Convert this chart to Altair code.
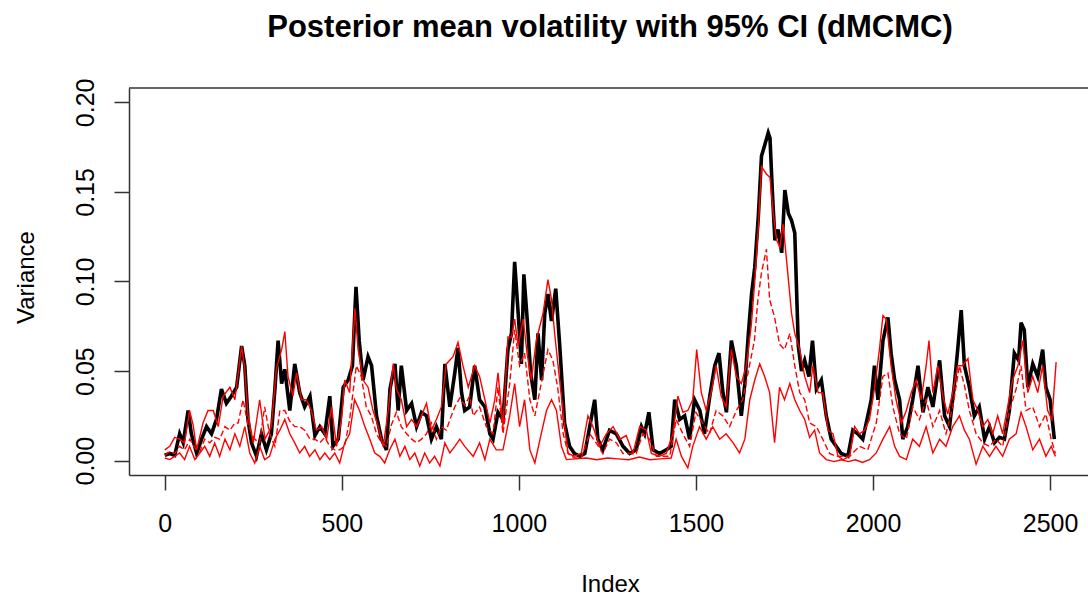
import altair as alt
import pandas as pd

# ---- posterior mean (black) ----
black_idx = [0, 14, 28, 42, 52, 66, 75, 90, 104, 118, 132, 146, 160, 174, 188, 203, 217, 226, 235, 245,
             259, 273, 287, 301, 311, 320, 330, 339, 353, 367, 381, 395, 410, 424, 438, 452, 466, 475, 490, 504,
             518, 530, 540, 549, 560, 574, 584, 598, 612, 626, 636, 650, 659, 668, 683, 697, 711, 725, 739, 753,
             767, 781, 791, 805, 819, 828, 838, 847, 861, 875, 889, 904, 918, 927, 941, 955, 969, 979, 988, 998,
             1007, 1014, 1023, 1033, 1045, 1054, 1064, 1073, 1082, 1092, 1104, 1115, 1129, 1143, 1157, 1172, 1186, 1200, 1214, 1223,
             1237, 1256, 1275, 1294, 1313, 1331, 1346, 1355, 1367, 1379, 1397, 1416, 1430, 1440, 1454, 1468, 1482, 1496, 1511, 1524,
             1539, 1553, 1565, 1576, 1586, 1600, 1614, 1628, 1638, 1648, 1657, 1666, 1676, 1685, 1694, 1704, 1709, 1716, 1723, 1732,
             1742, 1751, 1761, 1770, 1779, 1789, 1798, 1807, 1819, 1829, 1840, 1854, 1868, 1882, 1896, 1910, 1929, 1943, 1957, 1971,
             1983, 1995, 2004, 2014, 2028, 2042, 2051, 2061, 2075, 2084, 2098, 2112, 2127, 2141, 2155, 2169, 2188, 2202, 2216, 2230,
             2239, 2249, 2258, 2272, 2286, 2300, 2315, 2329, 2343, 2357, 2371, 2385, 2399, 2411, 2418, 2427, 2437, 2451, 2465, 2479,
             2488, 2500, 2512]
black_val = [0.003, 0.004, 0.003, 0.015, 0.010, 0.028, 0.015, 0.004, 0.012, 0.019, 0.015, 0.023, 0.040, 0.032, 0.036, 0.041, 0.064, 0.053, 0.023, 0.010,
             0.0025, 0.015, 0.006, 0.015, 0.040, 0.067, 0.043, 0.051, 0.028, 0.054, 0.038, 0.030, 0.036, 0.014, 0.019, 0.015, 0.036, 0.008, 0.012, 0.041,
             0.045, 0.053, 0.097, 0.067, 0.045, 0.058, 0.053, 0.025, 0.012, 0.006, 0.040, 0.054, 0.028, 0.053, 0.028, 0.032, 0.019, 0.027, 0.025, 0.012,
             0.019, 0.012, 0.054, 0.030, 0.049, 0.063, 0.038, 0.028, 0.030, 0.053, 0.034, 0.030, 0.015, 0.012, 0.027, 0.023, 0.062, 0.071, 0.111, 0.082,
             0.054, 0.104, 0.080, 0.049, 0.034, 0.071, 0.045, 0.082, 0.093, 0.078, 0.096, 0.065, 0.021, 0.008, 0.004, 0.0025, 0.004, 0.019, 0.034, 0.012,
             0.006, 0.017, 0.015, 0.008, 0.004, 0.006, 0.019, 0.015, 0.027, 0.006, 0.004, 0.006, 0.008, 0.034, 0.023, 0.025, 0.012, 0.034, 0.028, 0.015,
             0.036, 0.053, 0.060, 0.038, 0.027, 0.067, 0.053, 0.025, 0.043, 0.071, 0.093, 0.108, 0.136, 0.170, 0.176, 0.183, 0.180, 0.149, 0.123, 0.129,
             0.116, 0.151, 0.138, 0.134, 0.127, 0.064, 0.050, 0.056, 0.047, 0.067, 0.040, 0.045, 0.025, 0.012, 0.008, 0.004, 0.0025, 0.017, 0.015, 0.012,
             0.023, 0.034, 0.053, 0.034, 0.067, 0.080, 0.060, 0.045, 0.034, 0.012, 0.019, 0.034, 0.053, 0.027, 0.041, 0.030, 0.056, 0.025, 0.019, 0.043,
             0.062, 0.084, 0.053, 0.041, 0.025, 0.030, 0.012, 0.019, 0.010, 0.013, 0.012, 0.028, 0.060, 0.056, 0.077, 0.073, 0.041, 0.054, 0.047, 0.062,
             0.041, 0.034, 0.012]

# ---- upper red line ----
hi_idx = [0, 14, 28, 42, 56, 70, 80, 90, 108, 122, 137, 151, 165, 184, 198, 217, 226, 235, 250, 268,
          283, 301, 315, 330, 339, 348, 362, 372, 386, 400, 414, 428, 443, 457, 471, 485, 499, 508, 522, 537,
          546, 560, 574, 588, 603, 617, 631, 645, 654, 668, 683, 697, 711, 725, 739, 753, 767, 781, 795, 814,
          828, 842, 857, 875, 889, 904, 918, 932, 941, 955, 969, 979, 988, 998, 1012, 1023, 1035, 1049, 1059, 1068,
          1082, 1092, 1101, 1110, 1120, 1129, 1139, 1157, 1176, 1195, 1209, 1228, 1247, 1266, 1285, 1303, 1322, 1341, 1360, 1374,
          1397, 1416, 1435, 1449, 1463, 1477, 1491, 1502, 1515, 1529, 1543, 1557, 1571, 1585, 1600, 1614, 1628, 1642, 1656, 1666,
          1676, 1685, 1699, 1709, 1718, 1728, 1737, 1746, 1761, 1770, 1779, 1793, 1807, 1821, 1830, 1845, 1858, 1873, 1887, 1901,
          1915, 1934, 1948, 1962, 1976, 1990, 2004, 2018, 2028, 2037, 2051, 2065, 2080, 2094, 2108, 2122, 2136, 2150, 2158, 2169,
          2183, 2197, 2211, 2225, 2239, 2253, 2268, 2282, 2296, 2310, 2324, 2338, 2352, 2366, 2380, 2394, 2409, 2423, 2437, 2451,
          2465, 2479, 2493, 2505, 2517]
hi_val = [0.006, 0.008, 0.013, 0.012, 0.010, 0.028, 0.020, 0.006, 0.021, 0.028, 0.028, 0.019, 0.036, 0.041, 0.034, 0.064, 0.051, 0.025, 0.010, 0.034,
          0.012, 0.019, 0.051, 0.062, 0.072, 0.047, 0.036, 0.049, 0.034, 0.034, 0.028, 0.017, 0.019, 0.012, 0.030, 0.008, 0.023, 0.045, 0.038, 0.085,
          0.062, 0.045, 0.041, 0.028, 0.019, 0.008, 0.028, 0.054, 0.040, 0.034, 0.019, 0.023, 0.019, 0.025, 0.032, 0.017, 0.023, 0.030, 0.054, 0.058,
          0.066, 0.053, 0.041, 0.053, 0.047, 0.034, 0.021, 0.034, 0.049, 0.019, 0.069, 0.069, 0.079, 0.064, 0.079, 0.060, 0.045, 0.067, 0.075, 0.082,
          0.101, 0.090, 0.071, 0.054, 0.036, 0.019, 0.004, 0.0025, 0.004, 0.025, 0.019, 0.008, 0.015, 0.019, 0.012, 0.014, 0.004, 0.019, 0.017, 0.004,
          0.0025, 0.004, 0.015, 0.036, 0.027, 0.028, 0.034, 0.062, 0.038, 0.028, 0.038, 0.053, 0.036, 0.030, 0.062, 0.047, 0.043, 0.053, 0.075, 0.100,
          0.130, 0.164, 0.160, 0.158, 0.138, 0.123, 0.119, 0.132, 0.101, 0.082, 0.071, 0.062, 0.047, 0.038, 0.053, 0.038, 0.038, 0.017, 0.015, 0.0025,
          0.0005, 0.0025, 0.019, 0.015, 0.017, 0.023, 0.040, 0.062, 0.081, 0.079, 0.053, 0.034, 0.021, 0.028, 0.038, 0.045, 0.034, 0.053, 0.067, 0.038,
          0.053, 0.036, 0.026, 0.038, 0.053, 0.053, 0.057, 0.034, 0.028, 0.019, 0.023, 0.015, 0.025, 0.015, 0.030, 0.045, 0.053, 0.067, 0.038, 0.047,
          0.038, 0.053, 0.028, 0.023, 0.055]

# ---- middle red line (dashed) ----
mid_idx = [0, 14, 28, 42, 56, 71, 85, 99, 113, 127, 141, 155, 170, 184, 198, 207, 221, 235, 254, 268,
           282, 296, 311, 325, 339, 353, 367, 381, 395, 410, 424, 438, 452, 466, 480, 494, 508, 522, 541, 555,
           569, 583, 598, 612, 626, 640, 654, 668, 683, 697, 711, 725, 739, 753, 767, 781, 795, 809, 819, 833,
           847, 861, 871, 889, 908, 927, 941, 955, 974, 988, 1002, 1016, 1031, 1045, 1063, 1082, 1096, 1110, 1125, 1139,
           1157, 1176, 1200, 1218, 1237, 1256, 1275, 1294, 1313, 1331, 1350, 1369, 1388, 1407, 1426, 1444, 1463, 1482, 1500, 1519,
           1538, 1557, 1576, 1595, 1614, 1632, 1651, 1665, 1675, 1685, 1699, 1708, 1722, 1736, 1750, 1765, 1779, 1793, 1807, 1821,
           1840, 1858, 1877, 1896, 1915, 1934, 1962, 1985, 2009, 2028, 2042, 2056, 2075, 2094, 2112, 2131, 2150, 2169, 2188, 2206,
           2225, 2244, 2258, 2272, 2291, 2310, 2329, 2347, 2366, 2385, 2404, 2418, 2432, 2451, 2470, 2488, 2503, 2515]
mid_val = [0.003, 0.005, 0.004, 0.008, 0.006, 0.012, 0.007, 0.005, 0.012, 0.010, 0.013, 0.012, 0.019, 0.017, 0.021, 0.021, 0.034, 0.020, 0.012, 0.010,
           0.030, 0.015, 0.008, 0.028, 0.028, 0.022, 0.019, 0.019, 0.017, 0.012, 0.012, 0.010, 0.013, 0.008, 0.006, 0.006, 0.008, 0.023, 0.053, 0.047,
           0.030, 0.025, 0.015, 0.010, 0.008, 0.020, 0.027, 0.019, 0.015, 0.012, 0.010, 0.012, 0.015, 0.021, 0.012, 0.019, 0.017, 0.025, 0.030, 0.035,
           0.031, 0.036, 0.025, 0.030, 0.019, 0.015, 0.041, 0.015, 0.043, 0.073, 0.053, 0.060, 0.034, 0.025, 0.043, 0.062, 0.056, 0.040, 0.015, 0.004,
           0.0015, 0.0015, 0.015, 0.010, 0.004, 0.012, 0.010, 0.004, 0.004, 0.004, 0.015, 0.012, 0.0025, 0.0025, 0.0025, 0.023, 0.015, 0.008, 0.027, 0.021,
           0.015, 0.028, 0.025, 0.019, 0.028, 0.034, 0.053, 0.067, 0.090, 0.105, 0.118, 0.090, 0.080, 0.065, 0.062, 0.071, 0.053, 0.038, 0.034, 0.021,
           0.019, 0.012, 0.004, 0.0025, 0.0025, 0.0025, 0.008, 0.006, 0.021, 0.047, 0.049, 0.030, 0.015, 0.012, 0.030, 0.023, 0.034, 0.019, 0.028, 0.015,
           0.030, 0.053, 0.042, 0.028, 0.015, 0.010, 0.008, 0.012, 0.008, 0.028, 0.040, 0.053, 0.028, 0.030, 0.019, 0.026, 0.012, 0.004]

# ---- lower red line ----
lo_idx = [0, 14, 28, 42, 56, 70, 85, 99, 113, 127, 141, 155, 170, 184, 198, 212, 226, 240, 254, 268,
          282, 296, 311, 325, 339, 353, 367, 381, 395, 409, 424, 438, 452, 466, 480, 494, 508, 522, 536, 550,
          565, 579, 593, 607, 621, 635, 650, 664, 678, 692, 706, 720, 734, 748, 762, 777, 791, 805, 819, 833,
          847, 871, 889, 904, 918, 936, 955, 974, 988, 1002, 1016, 1031, 1045, 1063, 1078, 1092, 1106, 1120, 1134, 1160,
          1190, 1220, 1250, 1280, 1310, 1340, 1370, 1400, 1430, 1444, 1459, 1477, 1491, 1510, 1529, 1547, 1567, 1585, 1605, 1623,
          1638, 1652, 1666, 1680, 1694, 1708, 1722, 1736, 1750, 1765, 1779, 1793, 1807, 1821, 1835, 1849, 1868, 1890, 1910, 1930,
          1950, 1970, 1990, 2009, 2028, 2047, 2061, 2075, 2094, 2112, 2131, 2150, 2169, 2188, 2206, 2225, 2244, 2258, 2272, 2291,
          2310, 2329, 2347, 2366, 2385, 2404, 2418, 2432, 2451, 2470, 2488, 2503, 2515]
lo_val = [0.0015, 0.0006, 0.0024, 0.0043, 0.0006, 0.008, 0.0006, 0.0043, 0.008, 0.0024, 0.0099, 0.0024, 0.012, 0.0061, 0.015, 0.008, 0.019, 0.0043, -0.0013, 0.008,
          0.0006, 0.0024, 0.012, 0.017, 0.023, 0.015, 0.0099, 0.0043, 0.008, 0.0024, 0.0061, 0.0006, 0.0043, 0.0006, 0.0043, -0.0013, 0.0099, 0.015, 0.034, 0.028,
          0.019, 0.012, 0.0043, 0.0024, -0.0013, 0.0061, 0.012, 0.0024, 0.008, 0.0006, 0.0043, -0.003, 0.0043, -0.0013, 0.0024, -0.003, 0.0099, 0.0043, 0.008, 0.012,
          0.008, 0.0024, 0.0099, 0.0006, 0.012, 0.006, 0.006, 0.025, 0.043, 0.019, 0.034, 0.006, -0.0013, 0.015, 0.028, 0.034, 0.028, 0.008, 0.0006, 0.001,
          0.0015, 0.0005, 0.0015, 0.001, 0.0005, 0.002, 0.0005, 0.001, 0.0015, 0.012, 0.0024, -0.004, 0.008, 0.019, 0.012, 0.019, 0.012, 0.015, 0.0099, 0.0043,
          0.012, 0.034, 0.045, 0.054, 0.047, 0.038, 0.010, 0.041, 0.034, 0.043, 0.034, 0.028, 0.023, 0.013, 0.017, 0.0043, 0.0006, -0.0005, 0.0005, -0.0005,
          0.0005, -0.001, 0.0005, 0.0043, 0.012, 0.019, 0.008, 0.0024, 0.0006, 0.012, 0.008, 0.019, 0.0043, 0.012, 0.008, 0.019, 0.025, 0.017, 0.012, -0.002,
          0.008, 0.0024, 0.008, 0.0024, 0.012, 0.015, 0.027, 0.019, 0.006, 0.012, 0.0024, 0.008, 0.0024]

# ---- axes ----
x_ticks = [0, 500, 1000, 1500, 2000, 2500]
y_ticks = [0.0, 0.05, 0.10, 0.15, 0.20]

FONT = "Liberation Sans"
PLOT_W, PLOT_H = 959, 387

df_black = pd.DataFrame({"Index": black_idx, "Variance": black_val})
df_hi = pd.DataFrame({"Index": hi_idx, "Variance": hi_val})
df_mid = pd.DataFrame({"Index": mid_idx, "Variance": mid_val})
df_lo = pd.DataFrame({"Index": lo_idx, "Variance": lo_val})

x_enc = alt.X(
    "Index:Q",
    scale=alt.Scale(domain=[-101, 2607], nice=False, zero=False),
    axis=alt.Axis(
        values=x_ticks, title="Index", grid=False, format="d",
        labelFontSize=25, labelFont=FONT, labelColor="#000000", labelPadding=21,
        labelFlush=False, labelOverlap=False,
        tickSize=15, tickWidth=1.5, tickColor="#333333",
        domainColor="#333333", domainWidth=1.5,
        titleFont=FONT, titleFontSize=24, titleFontWeight="normal", titleColor="#000000",
        titleBaseline="alphabetic", titleY=116, titleX=481, titleAnchor="start", titleAlign="center",
    ),
)
y_enc = alt.Y(
    "Variance:Q",
    scale=alt.Scale(domain=[-0.008, 0.208], nice=False, zero=False),
    axis=alt.Axis(
        values=y_ticks, title="Variance", grid=False, format=".2f",
        labelFontSize=25, labelFont=FONT, labelColor="#000000", labelPadding=21,
        labelAngle=270, labelAlign="center", labelBaseline="alphabetic",
        labelFlush=False, labelOverlap=False,
        tickSize=15, tickWidth=1.5, tickColor="#333333",
        domainColor="#333333", domainWidth=1.5,
        titleFont=FONT, titleFontSize=24, titleFontWeight="normal", titleColor="#000000",
        titleAngle=270, titleBaseline="alphabetic", titleAlign="center",
        titleX=-96, titleY=189, titleAnchor="start",
    ),
)

black = alt.Chart(df_black).mark_line(color="#000000", strokeWidth=3.6, clip=True).encode(
    x=x_enc, y=y_enc, order="Index:Q")
hi = alt.Chart(df_hi).mark_line(color="#ff0000", strokeWidth=1.4, clip=True).encode(
    x="Index:Q", y="Variance:Q", order="Index:Q")
mid = alt.Chart(df_mid).mark_line(color="#ff0000", strokeWidth=1.4, strokeDash=[6, 3], clip=True).encode(
    x="Index:Q", y="Variance:Q", order="Index:Q")
lo = alt.Chart(df_lo).mark_line(color="#ff0000", strokeWidth=1.4, clip=True).encode(
    x="Index:Q", y="Variance:Q", order="Index:Q")

top_border = alt.Chart(pd.DataFrame({"a": [0]})).mark_rule(color="#333333", strokeWidth=1.5).encode(
    x=alt.value(0), x2=alt.value(PLOT_W), y=alt.value(0))

chart = alt.layer(black, hi, mid, lo, top_border).properties(
    width=PLOT_W,
    height=PLOT_H,
    title=alt.TitleParams(
        "Posterior mean volatility with 95% CI (dMCMC)",
        font=FONT, fontSize=31, fontWeight="bold", color="#000000",
        anchor="middle", baseline="alphabetic", offset=10, dx=1.5,
    ),
    autosize=alt.AutoSizeParams(type="none"),
    padding={"left": 129, "top": 88, "right": 0, "bottom": 124},
    background="#ffffff",
).configure_view(stroke=None)

chart.save("out.html", embed_options={"renderer": "svg", "actions": False})
